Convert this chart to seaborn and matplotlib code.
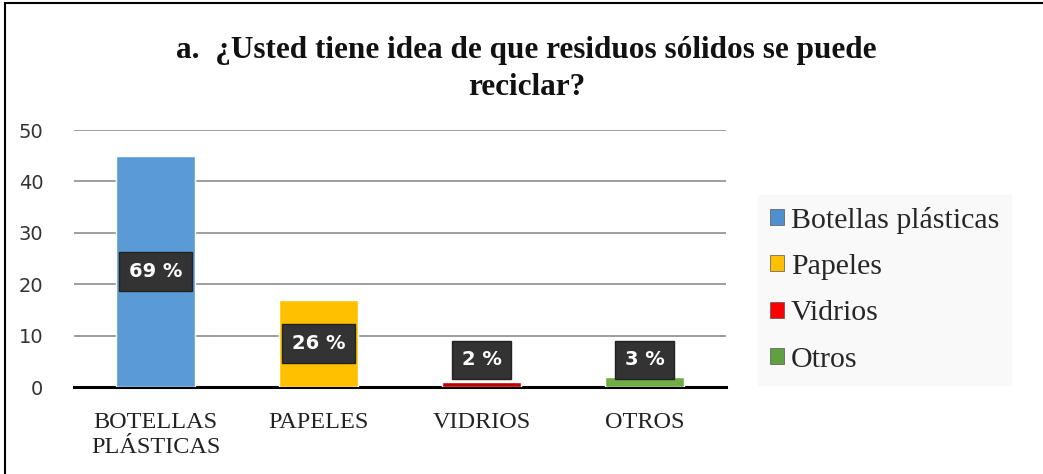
import matplotlib
matplotlib.use("Agg")
import matplotlib.pyplot as plt
import seaborn as sns
import pandas as pd
from matplotlib.patches import Patch, Rectangle

categories = ["BOTELLAS\nPLÁSTICAS", "PAPELES", "VIDRIOS", "OTROS"]
legend_labels = ["Botellas plásticas", "Papeles", "Vidrios", "Otros"]
values = [45, 17, 1, 2]
pct_labels = ["69 %", "26 %", "2 %", "3 %"]
bar_colors = ["#5B9BD5", "#FFC000", "#C00000", "#70AD47"]
legend_colors = ["#4F8FCF", "#FFC000", "#FF0000", "#5FA040"]
title = "a.  ¿Usted tiene idea de que residuos sólidos se puede\nreciclar?"

sns.set_theme(style="white")
plt.rcParams["font.family"] = ["DejaVu Sans"]

df = pd.DataFrame({"cat": categories, "val": values})

fig = plt.figure(figsize=(10.43, 4.74), dpi=100)
ax = fig.add_axes([0.071, 0.1835, 0.625, 0.5422])

sns.barplot(data=df, x="cat", y="val", hue="cat", palette=bar_colors,
            width=0.49, legend=False, ax=ax, saturation=1, zorder=3)

ax.set_ylim(0, 50)
ax.set_xlim(-0.5, 3.5)
ax.set_yticks([0, 10, 20, 30, 40, 50])
ax.yaxis.grid(True, color="#8c8c8c", linewidth=1.2, zorder=0)
ax.set_axisbelow(True)
for s in ["left", "right", "top"]:
    ax.spines[s].set_visible(False)
ax.spines["bottom"].set_color("black")
ax.spines["bottom"].set_linewidth(2.2)
ax.set_xlabel("")
ax.set_ylabel("")
ax.tick_params(axis="y", length=0, labelsize=14, pad=22, labelcolor="#333333")
ax.tick_params(axis="x", which="major", length=0, pad=18)
ax.set_xticks([-0.5, 0.5, 1.5, 2.5, 3.5], minor=True)
ax.tick_params(axis="x", which="minor", length=6, width=2.2, color="black", direction="out")
ax.set_xticklabels(categories, fontfamily="Liberation Serif", fontsize=17.5,
                   color="#222222", linespacing=1.25)

for i, (v, lab) in enumerate(zip(values, pct_labels)):
    y = max(v / 2, 5.3)
    ax.text(i, y, lab, ha="center", va="center", color="white", fontsize=14,
            fontweight="bold", zorder=5,
            bbox=dict(boxstyle="square,pad=0.5", facecolor="#333333",
                      edgecolor="#222222", linewidth=1))

handles = [Patch(facecolor=c, edgecolor="#555555", linewidth=0.5) for c in legend_colors]
leg = fig.legend(handles, legend_labels, loc="upper left",
                 bbox_to_anchor=(0.727, 0.589), borderaxespad=0, frameon=True,
                 prop={"family": "Liberation Serif", "size": 21.5},
                 handlelength=0.45, handleheight=0.45, handletextpad=0.25,
                 labelspacing=0.68, borderpad=0.4, fancybox=False)
leg.get_frame().set_facecolor("#f8f8f8")
leg.get_frame().set_edgecolor("#f8f8f8")

fig.text(0.505, 0.925, title, ha="center", va="top", fontfamily="Liberation Serif",
         fontweight="bold", fontsize=22.5, linespacing=1.4, color="#111111")

fig.patches.append(Rectangle((0.005, -0.01), 1.1, 1.004, transform=fig.transFigure,
                             fill=False, edgecolor="black", linewidth=1.5))

fig.savefig("out.png", dpi=100)
